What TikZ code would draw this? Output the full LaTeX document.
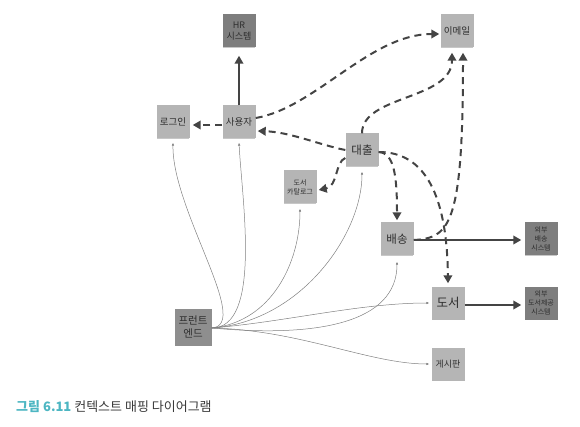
\documentclass[tikz,border=0pt]{standalone}
\usepackage{fontspec}
\setmainfont{Noto Sans CJK KR}
\usetikzlibrary{arrows.meta,shadows}
\definecolor{lightbox}{HTML}{B5B5B5}
\definecolor{darkbox}{HTML}{7E7E7E}
\definecolor{frontbox}{HTML}{8E8E8E}
\definecolor{linec}{HTML}{444444}
\definecolor{textc}{HTML}{2E2E2E}
\definecolor{thinc}{HTML}{808080}
\definecolor{capc}{HTML}{4DB6C2}
\definecolor{capt}{HTML}{3A3A3A}
\tikzset{
  box/.style={draw=none, fill=lightbox, minimum width=33pt, minimum height=33pt,
    inner sep=0pt, align=center, text=textc, font=\fontsize{9.5}{11.5}\selectfont,
    drop shadow={shadow xshift=0pt, shadow yshift=-2pt, shadow scale=0.94, opacity=0.22, fill=black}},
  darkboxs/.style={box, fill=darkbox},
  smalltext/.style={font=\fontsize{7}{9}\selectfont},
  bigtext/.style={font=\fontsize{11.5}{13}\selectfont},
  dline/.style={draw=linec, line width=2pt, dash pattern=on 7pt off 5pt,
    -{Triangle[length=8pt,width=8.5pt]}},
  sline/.style={draw=linec, line width=2pt, -{Triangle[length=8pt,width=8.5pt]}},
  thinl/.style={draw=thinc, line width=0.5pt, -{Latex[length=3pt,width=2.5pt]}},
}
\begin{document}
\begin{tikzpicture}[x=1pt,y=-1pt]
\useasboundingbox (0,0) rectangle (580,427);
% nodes
\node[darkboxs, font=\fontsize{9}{11}\selectfont] (hr) at (239,31) {HR\\시스템};
\node[box] (login) at (173,122) {로그인};
\node[box] (user) at (239,122) {사용자};
\node[box] (email) at (457,31) {이메일};
\node[box, bigtext] (loan) at (362,150) {대출};
\node[box, smalltext] (catalog) at (300,187) {도서\\카탈로그};
\node[box, bigtext] (ship) at (397,239) {배송};
\node[darkboxs, smalltext] (extship) at (541,239) {외부\\배송\\시스템};
\node[box, font=\fontsize{12.5}{14}\selectfont] (book) at (448,303) {도서};
\node[darkboxs, smalltext] (extbook) at (541,303) {외부\\도서제공\\시스템};
\node[box, fill=frontbox, minimum width=37pt, minimum height=37pt,
      font=\fontsize{10.5}{13}\selectfont] (front) at (193,327) {프런트\\엔드};
\node[box, font=\fontsize{9}{11}\selectfont] (board) at (448,364) {게시판};
% solid connectors
\draw[sline] (user.north) -- ([yshift=-8pt]hr.south);
\draw[sline] ([yshift=-1pt]ship.east) -- ([xshift=-3pt,yshift=-1pt]extship.west);
\draw[sline] ([yshift=-2pt]book.east) -- ([xshift=-3pt,yshift=-2pt]extbook.west);
% dashed connectors
\draw[dline] ([yshift=-3pt]user.west) -- ([xshift=3pt,yshift=-3pt]login.east);
\draw[dline] ([yshift=4pt]user.east) .. controls (315,108) and (370,34) .. ([xshift=-1pt,yshift=-3pt]email.west);
\draw[dline] (loan.west) .. controls (320,145) and (290,132) .. ([xshift=2pt,yshift=-9pt]user.east);
\draw[dline] (loan.north) .. controls (362,95) and (452,100) .. ([xshift=-5pt,yshift=-5pt]email.south);
\draw[dline] ([yshift=-1pt]ship.east) .. controls (450,238) and (463,225) .. ([xshift=6pt,yshift=-5pt]email.south);
\draw[dline] ([yshift=-8pt]loan.west) .. controls (335,162) and (338,186) .. ([xshift=2pt,yshift=-3pt]catalog.east);
\draw[dline] ([yshift=-2pt]loan.east) .. controls (394,153) and (397,175) .. ([yshift=2pt]ship.north);
\draw[dline] ([yshift=-2pt]loan.east) .. controls (425,152) and (447,195) .. ([yshift=3pt]book.north);
% thin connectors from front end
\draw[thinl] ([yshift=-1pt]front.east) .. controls (252,325) and (172,210) .. ([yshift=-4pt]login.south);
\draw[thinl] ([yshift=-1pt]front.east) .. controls (262,328) and (242,200) .. ([yshift=-4pt]user.south);
\draw[thinl] ([yshift=-1pt]front.east) .. controls (272,322) and (300,262) .. ([yshift=-5pt]catalog.south);
\draw[thinl] ([yshift=-1pt]front.east) .. controls (300,322) and (362,235) .. ([yshift=-5pt]loan.south);
\draw[thinl] ([yshift=-1pt]front.east) .. controls (320,338) and (397,322) .. ([yshift=-6pt]ship.south);
\draw[thinl] ([yshift=-1pt]front.east) .. controls (285,322) and (360,303) .. ([xshift=-2pt]book.west);
\draw[thinl] ([yshift=-1pt]front.east) .. controls (300,330) and (370,364) .. ([xshift=-2pt]board.west);
% caption
\node[anchor=west, inner sep=0pt, font=\fontsize{13}{15}\selectfont, text=capt] (cap) at (16,407)
  {{\color{capc}\bfseries 그림 6.11}\ 컨텍스트 매핑 다이어그램};
\end{tikzpicture}
\end{document}
